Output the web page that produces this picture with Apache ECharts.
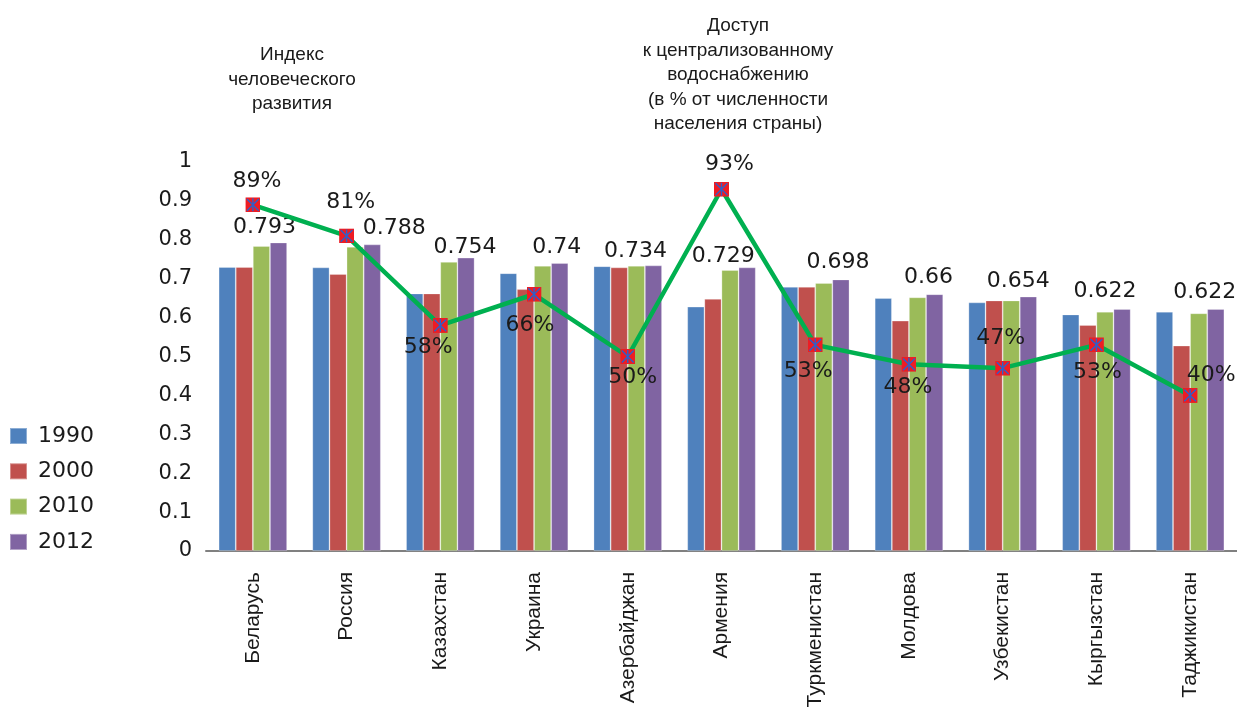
<!DOCTYPE html>
<html>
<head>
<meta charset="utf-8">
<script src="https://cdn.jsdelivr.net/npm/echarts@6/dist/echarts.min.js"></script>
<style>html,body{margin:0;padding:0;background:#fff;}#c{width:1237px;height:711px;}</style>
</head>
<body>
<div id="c"></div>
<script>
var categories = ['Беларусь','Россия','Казахстан','Украина','Азербайджан','Армения','Туркменистан','Молдова','Узбекистан','Кыргызстан','Таджикистан'];
var hdi1990 = [0.730,0.729,0.662,0.714,0.732,0.628,0.679,0.650,0.639,0.608,0.615];
var hdi2000 = [0.730,0.712,0.662,0.673,0.729,0.648,0.679,0.592,0.644,0.581,0.528];
var hdi2010 = [0.784,0.782,0.743,0.733,0.733,0.722,0.689,0.652,0.644,0.615,0.611];
var hdi2012 = [0.793,0.788,0.754,0.740,0.734,0.729,0.698,0.660,0.654,0.622,0.622];
var water   = [0.89,0.81,0.58,0.66,0.50,0.93,0.53,0.48,0.47,0.53,0.40];
var yTicks  = [0,0.1,0.2,0.3,0.4,0.5,0.6,0.7,0.8,0.9,1];

// label placement tweaks (style, not data)
var barLabelOffsets  = [[-14,1],[22,0],[-1,6],[-3,0],[-18,2],[-24,5],[-3,-1],[-6,-1],[-10,1],[-17,-2],[-11,-1]];
var lineLabelOffsets = [[4,-24],[4,-34],[-12,22],[-4,31],[5,21],[8,-25],[-7,26],[-1,23],[-2,-30],[1,27],[21,-20]];

var numFont = 'DejaVu Sans';
var markerSvg = "<svg xmlns='http://www.w3.org/2000/svg' width='28' height='28' viewBox='0 0 14 14'><rect width='14' height='14' fill='#ED1C24'/><path d='M1.5 1.5L12.5 12.5M12.5 1.5L1.5 12.5M7 1V13' stroke='#2F5FC8' stroke-width='1.3' fill='none'/></svg>";
var markerUrl = 'image://data:image/svg+xml;charset=utf-8,' + encodeURIComponent(markerSvg);

function barSeries(name, data, color, withLabel) {
  var s = {
    name: name, type: 'bar', data: data.map(function(v, i){
      var d = {value: v};
      if (withLabel) d.label = {offset: barLabelOffsets[i]};
      return d;
    }),
    barGap: '0%', barCategoryGap: '27%',
    itemStyle: {color: color, borderColor: 'rgba(255,255,255,0.35)', borderWidth: 0.8},
    z: 2
  };
  if (withLabel) {
    s.label = {show: true, position: 'top', distance: 5, fontFamily: numFont, fontSize: 22, color: '#1a1a1a',
      formatter: function(p){ return String(p.value); }};
  }
  return s;
}

var chart = echarts.init(document.getElementById('c'));
chart.setOption({
  animation: false,
  backgroundColor: '#fff',
  title: [
    {text: 'Индекс\nчеловеческого\nразвития', left: 287, top: 38, textAlign: 'center',
     textStyle: {fontFamily: 'Liberation Sans', fontSize: 19, fontWeight: 'normal', color: '#1a1a1a', lineHeight: 24.5}},
    {text: 'Доступ\nк централизованному\nводоснабжению\n(в % от численности\nнаселения страны)', left: 733, top: 9, textAlign: 'center',
     textStyle: {fontFamily: 'Liberation Sans', fontSize: 19, fontWeight: 'normal', color: '#1a1a1a', lineHeight: 24.5}}
  ],
  legend: {
    orient: 'vertical', left: 9, top: 425, padding: 0,
    itemWidth: 17, itemHeight: 16, itemGap: 13.3,
    data: ['1990','2000','2010','2012'],
    icon: 'rect',
    textStyle: {fontFamily: numFont, fontSize: 22, color: '#1a1a1a', padding: [0,0,0,6]}
  },
  grid: {left: 206, right: 0, top: 162, bottom: 160, containLabel: false},
  xAxis: {
    type: 'category', data: categories,
    axisLine: {lineStyle: {color: '#808080', width: 2}},
    axisTick: {show: false},
    axisLabel: {rotate: 90, margin: 21, fontFamily: 'Liberation Sans', fontSize: 21, color: '#1a1a1a', interval: 0}
  },
  yAxis: {
    type: 'value', min: yTicks[0], max: yTicks[yTicks.length-1], interval: 0.1,
    axisLine: {show: false}, axisTick: {show: false}, splitLine: {show: false},
    axisLabel: {margin: 14, fontFamily: numFont, fontSize: 21, color: '#1a1a1a',
      formatter: function(v){ return String(Math.round(v*10)/10); }}
  },
  series: [
    barSeries('1990', hdi1990, '#4F81BD', false),
    barSeries('2000', hdi2000, '#C0504D', false),
    barSeries('2010', hdi2010, '#9BBB59', false),
    barSeries('2012', hdi2012, '#8064A2', true),
    {
      name: 'water', type: 'line', z: 5,
      data: water.map(function(v, i){ return {value: v, label: {offset: lineLabelOffsets[i]}}; }),
      lineStyle: {color: '#00B050', width: 4.5},
      itemStyle: {color: '#ED1C24'},
      symbol: markerUrl, symbolSize: 15, showAllSymbol: true,
      label: {show: true, position: 'inside', fontFamily: numFont, fontSize: 22, color: '#1a1a1a',
        formatter: function(p){ return Math.round(p.value*100) + '%'; }}
    }
  ]
});
</script>
</body>
</html>
